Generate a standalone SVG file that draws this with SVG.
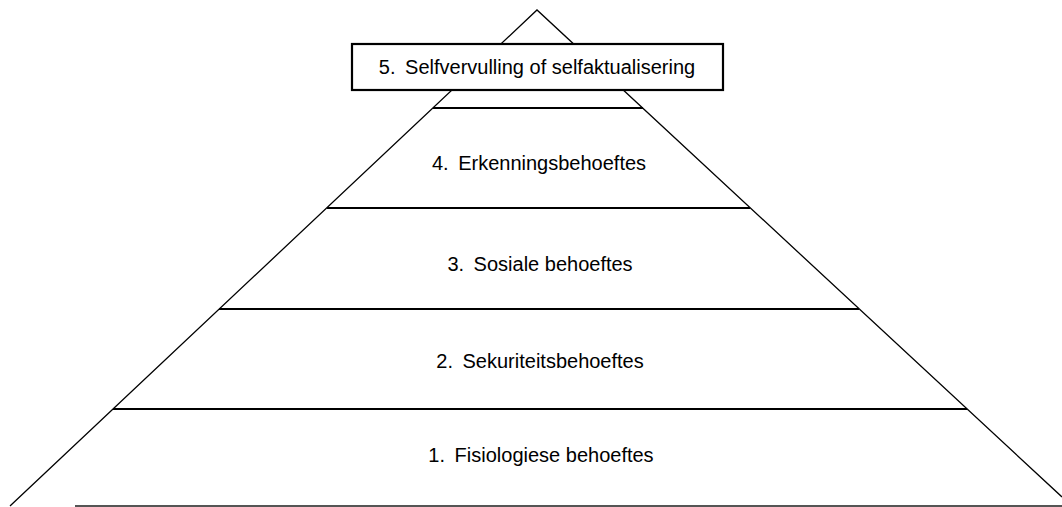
<svg xmlns="http://www.w3.org/2000/svg" width="1062" height="507" viewBox="0 0 1062 507">
<style>
.diag{stroke:#000;stroke-width:1.3;fill:none}
.tier{stroke:#000;stroke-width:2;fill:none}
.lbl{font-family:"Liberation Sans",Arial,sans-serif;font-size:20px;fill:#000;text-anchor:middle}
.box{fill:#fff;stroke:#000;stroke-width:2.2}
</style>
<rect width="1062" height="507" fill="#fff"/>
<g id="connectors">
<path class="diag" d="M10,506 L537,10 L1062,497"/>
<line class="tier" x1="433" y1="108" x2="643" y2="108"/>
<line class="tier" x1="327" y1="208" x2="750" y2="208"/>
<line class="tier" x1="219" y1="309" x2="859" y2="309"/>
<line class="tier" x1="113" y1="409" x2="967" y2="409"/>
<line x1="75" y1="506" x2="1062" y2="506" stroke="#555" stroke-width="2"/>
</g>
<g id="level5">
<rect class="box" x="352" y="44" width="371" height="46"/>
<text class="lbl" x="537" y="74">5.<tspan dx="4"> Selfvervulling of selfaktualisering</tspan></text>
</g>
<g id="level4">
<text class="lbl" x="539" y="170">4.<tspan dx="4"> Erkenningsbehoeftes</tspan></text>
</g>
<g id="level3">
<text class="lbl" x="540" y="271">3.<tspan dx="4"> Sosiale behoeftes</tspan></text>
</g>
<g id="level2">
<text class="lbl" x="540" y="368">2.<tspan dx="4"> Sekuriteitsbehoeftes</tspan></text>
</g>
<g id="level1">
<text class="lbl" x="541" y="462">1.<tspan dx="4"> Fisiologiese behoeftes</tspan></text>
</g>
</svg>
